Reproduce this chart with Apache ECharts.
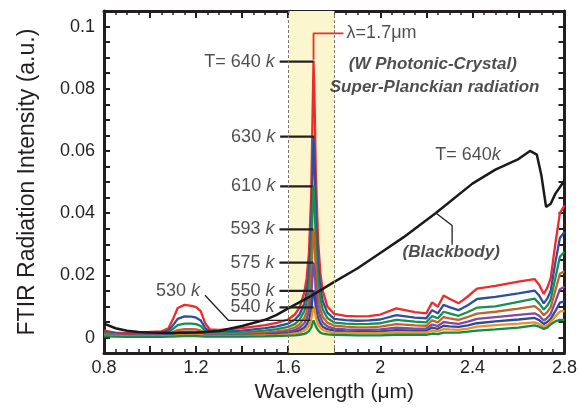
<!DOCTYPE html>
<html>
<head>
<meta charset="utf-8">
<script src="https://cdn.jsdelivr.net/npm/echarts@6/dist/echarts.min.js"></script>
<style>
  html, body { margin: 0; background: #fff; }
  #main { width: 580px; height: 408px; }
</style>
</head>
<body>
<div id="main"></div>
<script>
// wavelength grid (um) shared by the FTIR spectra
const wavelength = [0.8, 0.85, 0.9, 0.95, 1.0, 1.05, 1.08, 1.1, 1.12, 1.15, 1.18, 1.2, 1.22, 1.24, 1.26, 1.3, 1.4, 1.5, 1.55, 1.6,
  1.63, 1.65, 1.67, 1.68, 1.69, 1.7, 1.705, 1.71, 1.715, 1.72, 1.73, 1.74, 1.75, 1.77, 1.8, 1.85, 1.9, 1.95, 2.0, 2.07,
  2.15, 2.2, 2.225, 2.25, 2.275, 2.3, 2.34, 2.38, 2.42, 2.5, 2.6, 2.67, 2.69, 2.71, 2.725, 2.74, 2.76, 2.78, 2.8];

const t640 = [0.0022, 0.0016, 0.0014, 0.0015, 0.0018, 0.0020, 0.0030, 0.0060, 0.0095, 0.0105, 0.0102, 0.0098, 0.0085, 0.0045, 0.0026, 0.0025, 0.0030, 0.0040, 0.0047, 0.0058,
  0.0075, 0.0098, 0.0145, 0.0190, 0.0270, 0.0460, 0.0680, 0.0890, 0.0740, 0.0530, 0.0310, 0.0205, 0.0150, 0.0100, 0.0076, 0.0070, 0.0068, 0.0069, 0.0074, 0.0094,
  0.0082, 0.0078, 0.0113, 0.0099, 0.0135, 0.0125, 0.0110, 0.0132, 0.0157, 0.0166, 0.0180, 0.0188, 0.0170, 0.0140, 0.0160, 0.0190, 0.0300, 0.0400, 0.0425];
const t630 = [0.0018, 0.0013, 0.0011, 0.0012, 0.0014, 0.0015, 0.0022, 0.0040, 0.0060, 0.0068, 0.0067, 0.0064, 0.0055, 0.0030, 0.0019, 0.0018, 0.0022, 0.0030, 0.0036, 0.0045,
  0.0058, 0.0075, 0.0110, 0.0145, 0.0205, 0.0340, 0.0500, 0.0645, 0.0560, 0.0395, 0.0235, 0.0158, 0.0117, 0.0080, 0.0060, 0.0056, 0.0054, 0.0055, 0.0058, 0.0072,
  0.0064, 0.0062, 0.0088, 0.0078, 0.0105, 0.0098, 0.0088, 0.0104, 0.0124, 0.0131, 0.0142, 0.0151, 0.0135, 0.0110, 0.0125, 0.0150, 0.0240, 0.0320, 0.0340];
const t610 = [0.0015, 0.0011, 0.0009, 0.0010, 0.0011, 0.0012, 0.0017, 0.0028, 0.0040, 0.0045, 0.0045, 0.0043, 0.0037, 0.0021, 0.0014, 0.0013, 0.0016, 0.0022, 0.0027, 0.0034,
  0.0044, 0.0058, 0.0085, 0.0112, 0.0160, 0.0260, 0.0385, 0.0490, 0.0430, 0.0300, 0.0180, 0.0122, 0.0090, 0.0063, 0.0048, 0.0045, 0.0043, 0.0044, 0.0046, 0.0057,
  0.0051, 0.0049, 0.0069, 0.0062, 0.0083, 0.0078, 0.0070, 0.0082, 0.0096, 0.0100, 0.0115, 0.0125, 0.0110, 0.0090, 0.0102, 0.0122, 0.0190, 0.0260, 0.0276];
const t593 = [0.0012, 0.0009, 0.0007, 0.0008, 0.0009, 0.0009, 0.0012, 0.0018, 0.0024, 0.0027, 0.0027, 0.0026, 0.0022, 0.0013, 0.0010, 0.0010, 0.0012, 0.0016, 0.0020, 0.0025,
  0.0033, 0.0043, 0.0063, 0.0082, 0.0118, 0.0190, 0.0275, 0.0348, 0.0305, 0.0215, 0.0130, 0.0090, 0.0067, 0.0048, 0.0038, 0.0035, 0.0033, 0.0033, 0.0035, 0.0043,
  0.0039, 0.0038, 0.0055, 0.0049, 0.0066, 0.0062, 0.0057, 0.0066, 0.0077, 0.0083, 0.0093, 0.0101, 0.0090, 0.0072, 0.0082, 0.0098, 0.0150, 0.0205, 0.0213];
const t575 = [0.0010, 0.0007, 0.0006, 0.0006, 0.0007, 0.0007, 0.0009, 0.0013, 0.0017, 0.0019, 0.0019, 0.0018, 0.0015, 0.0010, 0.0008, 0.0008, 0.0009, 0.0012, 0.0015, 0.0019,
  0.0025, 0.0032, 0.0046, 0.0060, 0.0085, 0.0135, 0.0192, 0.0240, 0.0212, 0.0150, 0.0092, 0.0065, 0.0049, 0.0036, 0.0029, 0.0026, 0.0025, 0.0025, 0.0026, 0.0032,
  0.0029, 0.0029, 0.0042, 0.0037, 0.0050, 0.0047, 0.0044, 0.0051, 0.0060, 0.0066, 0.0073, 0.0078, 0.0070, 0.0055, 0.0063, 0.0076, 0.0115, 0.0155, 0.0163];
const t550 = [0.0008, 0.0006, 0.0005, 0.0005, 0.0005, 0.0005, 0.0007, 0.0009, 0.0011, 0.0013, 0.0013, 0.0012, 0.0010, 0.0007, 0.0006, 0.0006, 0.0007, 0.0009, 0.0011, 0.0014,
  0.0018, 0.0023, 0.0032, 0.0041, 0.0057, 0.0088, 0.0123, 0.0152, 0.0135, 0.0097, 0.0062, 0.0045, 0.0035, 0.0027, 0.0022, 0.0020, 0.0019, 0.0019, 0.0020, 0.0024,
  0.0022, 0.0022, 0.0032, 0.0028, 0.0038, 0.0036, 0.0034, 0.0039, 0.0046, 0.0052, 0.0058, 0.0063, 0.0056, 0.0044, 0.0050, 0.0060, 0.0085, 0.0112, 0.0116];
const t540 = [0.0006, 0.0005, 0.0004, 0.0004, 0.0004, 0.0004, 0.0005, 0.0006, 0.0008, 0.0009, 0.0009, 0.0009, 0.0008, 0.0005, 0.0005, 0.0005, 0.0005, 0.0007, 0.0008, 0.0010,
  0.0013, 0.0016, 0.0022, 0.0028, 0.0038, 0.0058, 0.0081, 0.0100, 0.0089, 0.0065, 0.0042, 0.0031, 0.0025, 0.0019, 0.0016, 0.0015, 0.0014, 0.0014, 0.0014, 0.0017,
  0.0016, 0.0016, 0.0023, 0.0020, 0.0027, 0.0026, 0.0025, 0.0029, 0.0035, 0.0040, 0.0045, 0.0049, 0.0044, 0.0035, 0.0040, 0.0050, 0.0068, 0.0084, 0.0085];
const t530 = [0.0004, 0.0003, 0.0002, 0.0002, 0.0002, 0.0002, 0.0003, 0.0003, 0.0004, 0.0005, 0.0005, 0.0005, 0.0004, 0.0003, 0.0003, 0.0003, 0.0003, 0.0004, 0.0005, 0.0006,
  0.0007, 0.0009, 0.0012, 0.0015, 0.0021, 0.0032, 0.0045, 0.0055, 0.0049, 0.0036, 0.0023, 0.0016, 0.0013, 0.0010, 0.0009, 0.0008, 0.0007, 0.0007, 0.0007, 0.0009,
  0.0009, 0.0009, 0.0013, 0.0011, 0.0016, 0.0016, 0.0016, 0.0019, 0.0022, 0.0026, 0.0032, 0.0039, 0.0035, 0.0028, 0.0032, 0.0042, 0.0052, 0.0057, 0.0056];

// blackbody at 640 K
const bbWavelength = [0.8, 0.85, 0.9, 0.95, 1.0, 1.1, 1.2, 1.3, 1.4, 1.5, 1.55, 1.6, 1.7, 1.8, 1.9, 2.0, 2.1, 2.24, 2.4, 2.5,
  2.6, 2.65, 2.68, 2.7, 2.72, 2.74, 2.76, 2.8];
const blackbody = [0.0045, 0.0030, 0.0022, 0.0018, 0.0016, 0.0015, 0.0016, 0.0021, 0.0037, 0.0057, 0.0073, 0.0094, 0.0134, 0.0179, 0.0222, 0.0272, 0.0322, 0.0400, 0.0495, 0.0540,
  0.0574, 0.0600, 0.0588, 0.0520, 0.0420, 0.0430, 0.0462, 0.0505];

const spectra = [t640, t630, t610, t593, t575, t550, t540, t530];
const colors = ['#ee2a2a', '#2f4ea0', '#169050', '#c0642a', '#7f4aa0', '#2d4a9a', '#f5901e', '#158a45'];

// temperature tags: text, anchor (um, a.u.)
const tags = [
  ['T= 640 ', 1.563, 0.0887], ['630 ', 1.565, 0.0646], ['610 ', 1.565, 0.0486], ['593 ', 1.562, 0.0348],
  ['575 ', 1.562, 0.0241], ['550 ', 1.562, 0.0150], ['540 ', 1.562, 0.0097]
];
const tag530 = ['530 ', 1.2385, 0.0136];

const leaders = [
  [[1.563, 0.0887], [1.71, 0.0887]],
  [[1.565, 0.0646], [1.713, 0.0646]],
  [[1.565, 0.0486], [1.705, 0.0486]],
  [[1.562, 0.0348], [1.709, 0.0348]],
  [[1.562, 0.0241], [1.709, 0.0241]],
  [[1.562, 0.0150], [1.709, 0.0150]],
  [[1.562, 0.0097], [1.709, 0.0097]]
];
const thinLeaders = [
  [[1.2385, 0.0136], [1.341, 0.0055], [1.696, 0.0055]],
  [[2.312, 0.0298], [2.312, 0.036], [2.24, 0.0401]]
];
const peakLeader = [[1.71, 0.0893], [1.71, 0.0978], [1.84, 0.0978]];

const ink = '#231f20';
const font = 'Liberation Sans, Arial, sans-serif';
const zip = (xs, ys) => xs.map((x, i) => [x, ys[i]]);

const chart = echarts.init(document.getElementById('main'));

const frameX = (pos, labels) => ({
  type: 'value', min: 0.8, max: 2.8, interval: 0.2, position: pos,
  axisLine: { onZero: false, lineStyle: { color: ink, width: 3 } },
  axisTick: { inside: true, length: 7, lineStyle: { color: ink, width: 2 } },
  minorTick: { show: true, splitNumber: 4, length: 4, lineStyle: { color: ink, width: 1.5 } },
  axisLabel: {
    show: labels, margin: 6, fontSize: 18, color: ink, showMinLabel: true, showMaxLabel: true,
    formatter: v => {
      const r = v / 0.4;
      return Math.abs(r - Math.round(r)) < 1e-6 ? String(+v.toFixed(1)) : '';
    }
  },
  splitLine: { show: false }
});
const frameY = (pos, labels) => ({
  type: 'value', min: -0.005, max: 0.105, interval: 0.005, position: pos,
  axisLine: { onZero: false, lineStyle: { color: ink, width: 3 } },
  axisTick: { inside: true, length: 6, lineStyle: { color: ink, width: 2 } },
  axisLabel: {
    show: labels, margin: 9, fontSize: 18, color: ink, showMinLabel: true, showMaxLabel: true,
    formatter: v => {
      const r = v / 0.02;
      return (v > -1e-9 && Math.abs(r - Math.round(r)) < 1e-6) ? String(+v.toFixed(2)) : '';
    }
  },
  splitLine: { show: false }
});

const series = [];

// highlighted band around the emission peak
series.push({
  type: 'line', data: [[1.7, -1]], z: 0, silent: true, showSymbol: false, lineStyle: { width: 0 },
  markArea: { silent: true, itemStyle: { color: '#fcf6cf' }, data: [[{ xAxis: 1.605 }, { xAxis: 1.8 }]] },
  markLine: {
    silent: true, symbol: 'none', label: { show: false },
    lineStyle: { type: [3, 2], color: '#7a7460', width: 1 },
    data: [{ xAxis: 1.605 }, { xAxis: 1.8 }]
  }
});

spectra.forEach((ys, i) => {
  series.push({
    type: 'line', data: zip(wavelength, ys), showSymbol: false, z: 2, silent: true,
    lineStyle: { width: 2.3, color: colors[i] }
  });
});

series.push({
  type: 'line', data: zip(bbWavelength, blackbody), showSymbol: false, z: 3, silent: true,
  lineStyle: { width: 2.5, color: '#1a1a1a' }
});

leaders.forEach(pts => series.push({
  type: 'line', data: pts, showSymbol: false, z: 4, silent: true, lineStyle: { width: 2.2, color: ink }
}));
thinLeaders.forEach(pts => series.push({
  type: 'line', data: pts, showSymbol: false, z: 4, silent: true, lineStyle: { width: 1.3, color: ink }
}));
series.push({
  type: 'line', data: peakLeader, showSymbol: false, z: 4, silent: true, lineStyle: { width: 1.8, color: '#ee2a2a' }
});

const rich = {
  n: { fontSize: 18, color: ink, fontFamily: font },
  k: { fontSize: 18, color: ink, fontStyle: 'italic', fontFamily: font }
};
const boldIt = { fontSize: 17, fontWeight: 'bold', fontStyle: 'italic', color: ink, fontFamily: font };

series.push({
  type: 'scatter', symbolSize: 0, z: 5, silent: true,
  data: tags.map(t => ({ value: [t[1], t[2]], name: t[0] }))
    .concat([{ value: [tag530[1], tag530[2]], name: tag530[0], label: { offset: [0, -4] } }]),
  label: { show: true, position: 'left', distance: 5, formatter: p => `{n|${p.name}}{k|k}`, rich }
});

series.push({
  type: 'scatter', symbolSize: 0, z: 5, silent: true,
  data: [
    { value: [1.845, 0.0978], label: { position: 'right', distance: 2, formatter: 'λ=1.7μm', fontSize: 18, color: ink } },
    { value: [2.228, 0.0878], label: Object.assign({ position: 'inside', formatter: '(W Photonic-Crystal)' }, boldIt) },
    { value: [2.236, 0.0806], label: Object.assign({ position: 'inside', formatter: 'Super-Planckian radiation' }, boldIt) },
    { value: [2.381, 0.0586], label: { position: 'inside', formatter: '{n|T= 640}{k|k}', rich } },
    { value: [2.308, 0.0275], label: Object.assign({ position: 'inside', formatter: '(Blackbody)' }, boldIt) }
  ],
  label: { show: true, fontFamily: font }
});

const xMain = frameX('bottom', true);
Object.assign(xMain, {
  name: 'Wavelength (μm)', nameLocation: 'middle', nameGap: 19,
  nameTextStyle: { fontSize: 21, color: ink, fontFamily: font }
});
const yMain = frameY('left', true);
Object.assign(yMain, {
  name: 'FTIR Radiation Intensity (a.u.)', nameLocation: 'middle', nameGap: 65,
  nameTextStyle: { fontSize: 23, color: ink, fontFamily: font }
});

chart.setOption({
  animation: false,
  backgroundColor: '#fff',
  textStyle: { fontFamily: font },
  grid: { left: 104, right: 9, top: 11, bottom: 47 },
  xAxis: [xMain, frameX('top', false)],
  yAxis: [yMain, frameY('right', false)],
  series
});
</script>
</body>
</html>
